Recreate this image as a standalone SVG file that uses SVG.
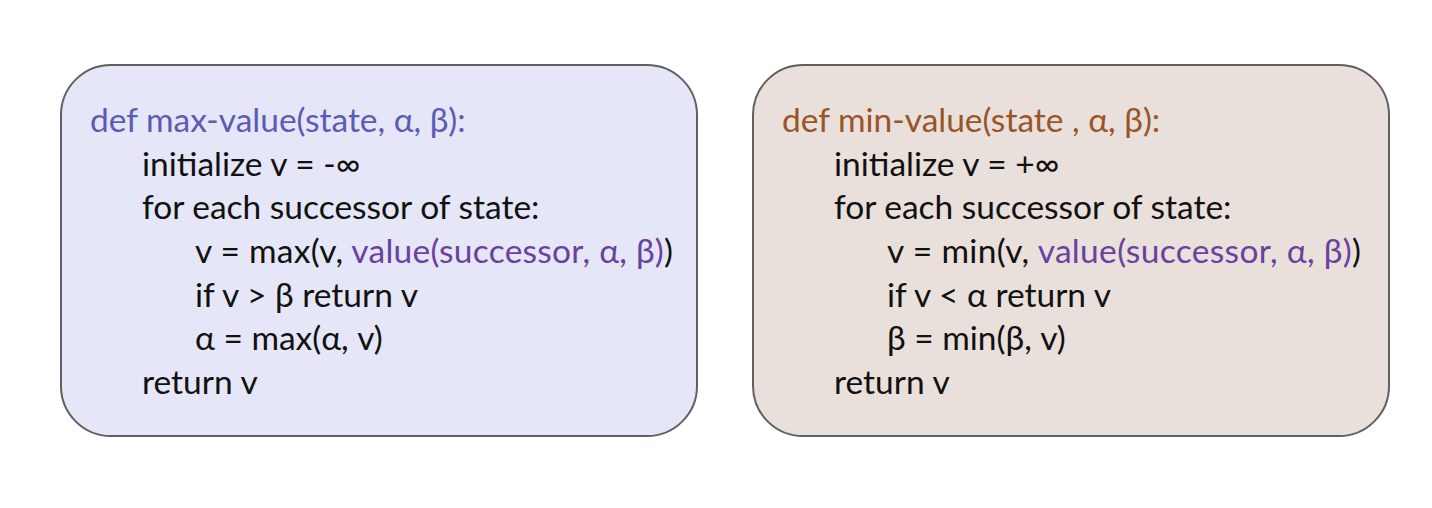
<svg xmlns="http://www.w3.org/2000/svg" width="1432" height="508" viewBox="0 0 1432 508">
<style>
.box{stroke:#606060;stroke-width:2}
.t{font-family:Lato,"Liberation Sans",sans-serif;font-size:33.5px;fill:#111}
.blue{fill:#5b5bb5}
.pur{fill:#6a40a0}
.brn{fill:#9a5426}
</style>
<rect width="1432" height="508" fill="#ffffff"/>
<g id="max-value">
<rect class="box" x="61" y="65" width="636" height="371" rx="50" fill="#e5e6f7"/>
<text class="t blue" x="90" y="132">def max-value(state, α, β):</text>
<text class="t" x="142" y="175.5">initialize v = -∞</text>
<text class="t" x="142" y="219">for each successor of state:</text>
<text class="t" x="195" y="263" textLength="478">v = max(v, <tspan class="pur">value(successor, α, β)</tspan>)</text>
<text class="t" x="195" y="306.5">if v &gt; β return v</text>
<text class="t" x="195" y="350">α = max(α, v)</text>
<text class="t" x="142" y="394">return v</text>
</g>
<g id="min-value">
<rect class="box" x="753" y="65" width="636" height="371" rx="50" fill="#e9dfdb"/>
<text class="t brn" x="782" y="132">def min-value(state , α, β):</text>
<text class="t" x="834" y="175.5">initialize v = +∞</text>
<text class="t" x="834" y="219">for each successor of state:</text>
<text class="t" x="887" y="263" textLength="474">v = min(v, <tspan class="pur">value(successor, α, β)</tspan>)</text>
<text class="t" x="887" y="306.5">if v &lt; α return v</text>
<text class="t" x="887" y="350">β = min(β, v)</text>
<text class="t" x="834" y="394">return v</text>
</g>
<g id="connectors"/>
</svg>
